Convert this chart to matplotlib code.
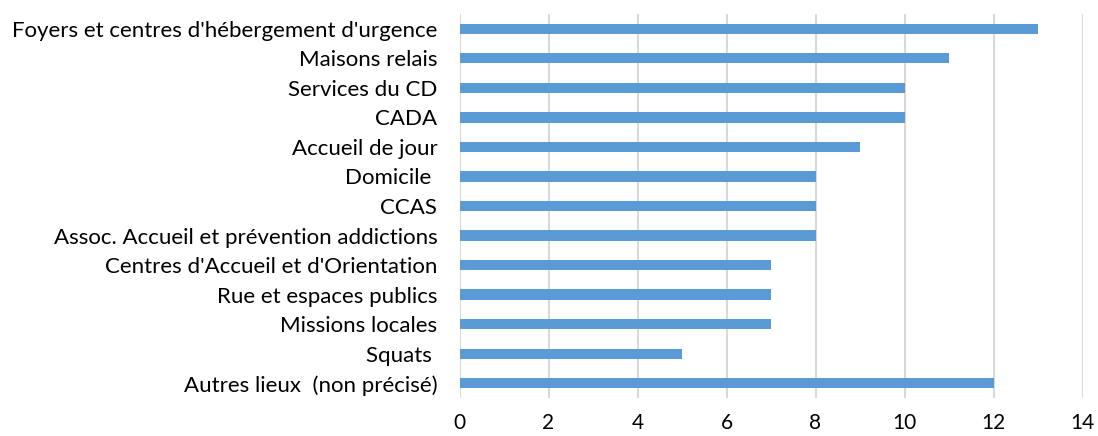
import matplotlib
matplotlib.use("Agg")
import matplotlib.pyplot as plt

categories = [
    "Foyers et centres d'hébergement d'urgence",
    "Maisons relais",
    "Services du CD",
    "CADA",
    "Accueil de jour",
    "Domicile ",
    "CCAS",
    "Assoc. Accueil et prévention addictions",
    "Centres d'Accueil et d'Orientation",
    "Rue et espaces publics",
    "Missions locales",
    "Squats ",
    "Autres lieux  (non précisé)",
]
values = [13, 11, 10, 10, 9, 8, 8, 8, 7, 7, 7, 5, 12]
xticks = [0, 2, 4, 6, 8, 10, 12, 14]

plt.rcParams['font.family'] = ['Lato', 'DejaVu Sans']

fig = plt.figure(figsize=(10.98, 4.36), dpi=100)
ax = fig.add_axes([459.5/1098, 1-398/436, (1082.5-459.5)/1098, (398-14)/436])

n = len(categories)
ypos = list(range(n))[::-1]
ax.barh(ypos, values, height=0.35, color="#5B9BD5", zorder=3)
ax.set_xlim(0, 14)
ax.set_ylim(-0.5, n - 0.5)
ax.set_xticks(xticks)
ax.set_xticklabels([str(t) for t in xticks], fontsize=15)
ax.set_yticks(ypos)
ax.set_yticklabels(categories, fontsize=16)
ax.grid(axis='x', color="#D9D9D9", linewidth=1.5, zorder=0)
for s in ax.spines.values():
    s.set_visible(False)
ax.tick_params(axis='both', length=0, colors="#000000")
ax.tick_params(axis='x', pad=11)
ax.tick_params(axis='y', pad=16)

fig.savefig("out.png", dpi=100)
